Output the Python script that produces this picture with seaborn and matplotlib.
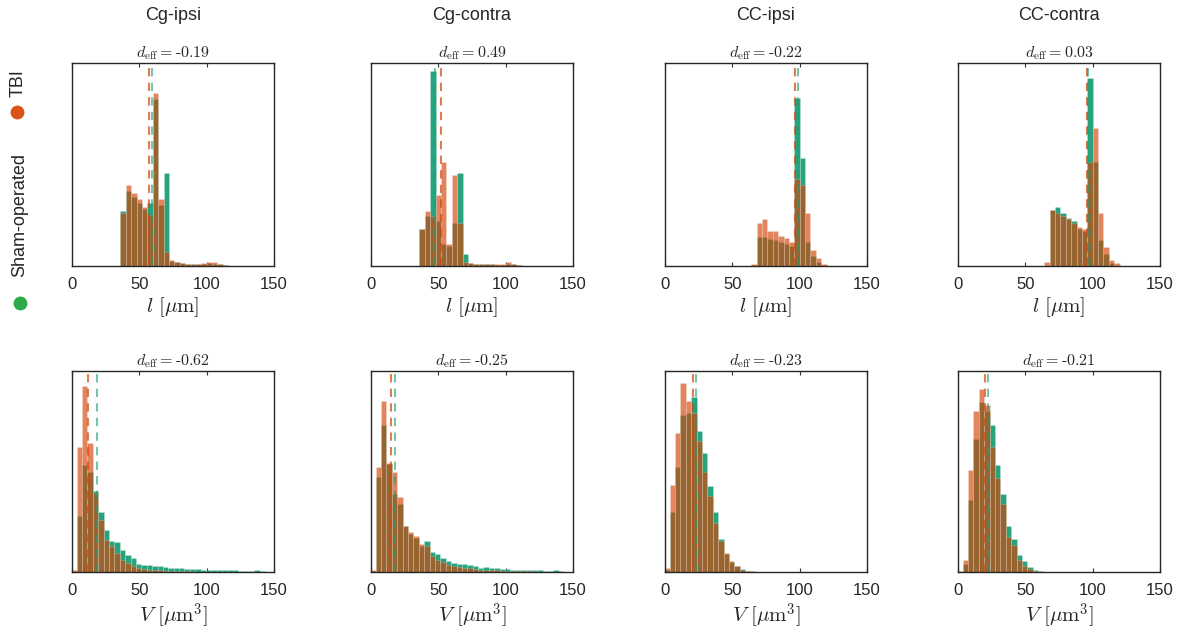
import numpy as np
import pandas as pd
import matplotlib
matplotlib.use("Agg")
import matplotlib.pyplot as plt
from matplotlib.lines import Line2D
import seaborn as sns

sns.set_style("white")
plt.rcParams['font.family'] = ['Liberation Sans', 'DejaVu Sans']
plt.rcParams['mathtext.fontset'] = 'cm'

# ---------------- data ----------------
regions = ["Cg-ipsi", "Cg-contra", "CC-ipsi", "CC-contra"]
d_eff_l = ["-0.19", "0.49", "-0.22", "0.03"]
d_eff_V = ["-0.62", "-0.25", "-0.23", "-0.21"]
xticks = [0, 50, 100, 150]
bin_width = 4

# length l [um]  (relative heights), first bin edge per panel
l_start = [36, 36, 64, 64]
l_sham_cg_ipsi = [.27, .37, .34, .31, .28, .31, .825, .30, .46, .025, .02, .015, .012, .012, .01, .012, .015, .012, .008, .005]
l_tbi_cg_ipsi = [.26, .40, .36, .33, .29, .25, .85, .33, .07, .03, .02, .015, .012, .01, .012, .015, .022, .018, .012, .006]
l_sham_cg_contra = [.18, .245, .96, .22, .11, .10, .21, .46, .06, .015, .012, .01, .01, .008, .006, .006, .01, .008, .004]
l_tbi_cg_contra = [.18, .27, .245, .35, .51, .11, .45, .21, .02, .015, .012, .01, .01, .008, .008, .008, .022, .012, .006]
l_sham_cc_ipsi = [.005, .145, .145, .135, .13, .12, .11, .10, .83, .53, .12, .05, .02, .005]
l_tbi_cc_ipsi = [.01, .21, .23, .17, .17, .15, .14, .12, .43, .40, .26, .08, .04, .01]
l_sham_cc_contra = [0, .275, .29, .26, .235, .22, .18, .17, .925, .51, .13, .06, .015, 0]
l_tbi_cc_contra = [.02, .275, .26, .245, .23, .21, .19, .18, .51, .68, .26, .095, .03, .015]

# volume V [um^3]
V_start = [-0.5, -0.5, -0.5, -0.5]
V_sham_cg_ipsi = [.005, .28, .53, .50, .405, .30, .21, .155, .15, .11, .085, .07, .04, .035, .035, .03, .03, .025,
                  .02, .02, .018, .016, .015, .014, .012, .012, .01, .01, .009, .008, .008, .007, .006, .006, .01, .004]
V_tbi_cg_ipsi = [.01, .62, .925, .64, .395, .26, .16, .13, .095, .06, .045, .03, .02, .015, .01, .01, .008, .006,
                 .005, .004, .004, .003, .003, .002, .002, .002]
V_sham_cg_contra = [.005, .475, .73, .535, .39, .34, .23, .19, .17, .13, .155, .10, .09, .07, .053, .045, .041, .04,
                    .035, .03, .02, .025, .02, .018, .016, .014, .012, .012, .01, .01, .008, .008, .006, .006, .008, .004]
V_tbi_cg_contra = [.01, .52, .85, .54, .50, .375, .227, .197, .18, .14, .13, .078, .06, .048, .036, .028, .025, .02,
                   .018, .015, .012, .012, .01, .008, .007, .006, .005, .004, .004, .003, .003, .002, .002, .002, .002]
V_sham_cc_ipsi = [.01, .30, .52, .78, .79, .87, .70, .59, .43, .30, .165, .09, .05, .028, .015, .007, .003]
V_tbi_cc_ipsi = [.02, .435, .69, .94, .85, .79, .65, .50, .38, .245, .153, .095, .053, .028, .012, .007]
V_sham_cc_contra = [0, .04, .36, .66, .845, .80, .73, .53, .39, .23, .165, .086, .053, .023, .01, .005]
V_tbi_cc_contra = [.005, .06, .505, .80, .91, .83, .62, .47, .34, .176, .135, .06, .03, .015, .006]

# means (dashed lines)
l_mean_sham = [59.3, 47.5, 98.8, 96.5]
l_mean_tbi = [57.3, 52.2, 96.3, 95.7]
V_mean_sham = [18.9, 17.8, 23.3, 22.5]
V_mean_tbi = [12.2, 14.9, 20.6, 20.0]

l_sham = [l_sham_cg_ipsi, l_sham_cg_contra, l_sham_cc_ipsi, l_sham_cc_contra]
l_tbi = [l_tbi_cg_ipsi, l_tbi_cg_contra, l_tbi_cc_ipsi, l_tbi_cc_contra]
V_sham = [V_sham_cg_ipsi, V_sham_cg_contra, V_sham_cc_ipsi, V_sham_cc_contra]
V_tbi = [V_tbi_cg_ipsi, V_tbi_cg_contra, V_tbi_cc_ipsi, V_tbi_cc_contra]

# ---------------- style ----------------
GREEN = "#1b9e77"
ORANGE = "#d4460a"
DOT_GREEN = "#2eaa4a"
DOT_ORANGE = "#d9541a"

fig = plt.figure(figsize=(11.88, 6.39), dpi=100)

col_left = [72, 371, 665, 958]
ax_w = 202
rows = [(63, 266), (371, 572)]


def hist(ax, start, heights, color, alpha):
    h = [float(v) for v in heights]
    edges = [start + bin_width * i for i in range(len(h) + 1)]
    centers = [0.5 * (edges[i] + edges[i + 1]) for i in range(len(h))]
    df = pd.DataFrame({"x": centers, "w": h})
    sns.histplot(data=df, x="x", weights="w", bins=edges, ax=ax, color=color, alpha=alpha,
                 edgecolor=(1, 1, 1, 0.3), linewidth=0.4, stat="count")


for r in range(2):
    top, bot = rows[r]
    for c in range(4):
        ax = fig.add_axes([col_left[c] / 1188, 1 - bot / 639, ax_w / 1188, (bot - top) / 639])
        if r == 0:
            hist(ax, l_start[c], l_sham[c], GREEN, 0.95)
            hist(ax, l_start[c], l_tbi[c], ORANGE, 0.66)
            ms, mt = l_mean_sham[c], l_mean_tbi[c]
            title = r"$d_{\mathrm{eff}}=$" + d_eff_l[c]
            xlabel = r"$l\ [\mu\mathrm{m}]$"
        else:
            hist(ax, V_start[c], V_sham[c], GREEN, 0.95)
            hist(ax, V_start[c], V_tbi[c], ORANGE, 0.66)
            ms, mt = V_mean_sham[c], V_mean_tbi[c]
            title = r"$d_{\mathrm{eff}}=$" + d_eff_V[c]
            xlabel = r"$V\ [\mu\mathrm{m}^3]$"
        ax.axvline(mt, color=ORANGE, alpha=0.7, lw=1.5, ls=(0, (4, 3)), zorder=5)
        ax.axvline(ms, color=GREEN, alpha=0.6, lw=1.5, ls=(0, (4, 3)), zorder=5)
        ax.set_xlim(0, 150)
        ax.set_ylim(0, 1)
        ax.set_xticks(xticks)
        ax.set_xticklabels([str(t) for t in xticks], fontsize=12)
        ax.set_yticks([])
        ax.set_ylabel("")
        ax.tick_params(axis="x", direction="in", top=True, bottom=True, length=3,
                       width=0.8, color="#333333", pad=8)
        ax.set_xlabel(xlabel, fontsize=15, labelpad=2)
        ax.set_title(title, fontsize=11.5, family="cmr10", pad=4)
        for s in ax.spines.values():
            s.set_visible(True)
            s.set_color("#262626")
            s.set_linewidth(1.0)
        if r == 0:
            fig.text((col_left[c] + ax_w / 2) / 1188, 1 - 16 / 639, regions[c],
                     ha="center", va="center", fontsize=13)

# group legend on the left (rotated)
fig.text(20 / 1188, 1 - 215 / 639, "Sham-operated", rotation=90, ha="center", va="center", fontsize=13)
fig.text(18 / 1188, 1 - 83 / 639, "TBI", rotation=90, ha="center", va="center", fontsize=13)
fig.add_artist(Line2D([20 / 1188], [1 - 303 / 639], marker="o", markersize=9, color=DOT_GREEN,
                      linestyle="none", transform=fig.transFigure))
fig.add_artist(Line2D([17 / 1188], [1 - 112 / 639], marker="o", markersize=9, color=DOT_ORANGE,
                      linestyle="none", transform=fig.transFigure))

fig.savefig("out.png", dpi=100, facecolor="white")
